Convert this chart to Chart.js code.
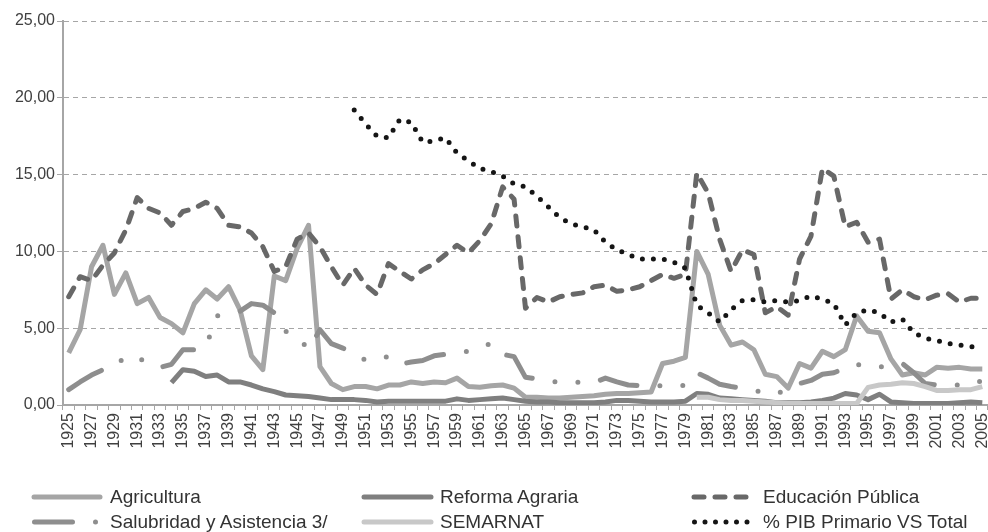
<!DOCTYPE html>
<html>
<head>
<meta charset="utf-8">
<script src="https://cdn.jsdelivr.net/npm/chart.js@4.4.0/dist/chart.umd.min.js"></script>
<style>
  html, body { margin: 0; padding: 0; background: #fff; }
  #wrap { position: relative; width: 988px; height: 532px; }
  #legend { position: absolute; left: 0; top: 470px; width: 988px; height: 62px; }
  #legend svg { position: absolute; left: 0; top: 0; }
  #legend .txt { position: absolute; font: 19px "Liberation Sans", Arial, sans-serif; color: #333; line-height: 22px; white-space: nowrap; }
</style>
</head>
<body>
<div id="wrap">
  <canvas id="chart"></canvas>
  <div id="legend"></div>
</div>
<script>
// years 1925 - 2005
const years = Array.from({ length: 81 }, (_, i) => String(1925 + i));

const agricultura = [
  3.4, 4.9, 9.0, 10.4, 7.2, 8.6, 6.6, 7.0, 5.7, 5.3,          // 1925-34
  4.7, 6.6, 7.5, 6.9, 7.7, 6.2, 3.2, 2.3, 8.4, 8.1,           // 1935-44
  10.2, 11.7, 2.5, 1.4, 1.0, 1.2, 1.2, 1.05, 1.3, 1.3,        // 1945-54
  1.5, 1.4, 1.5, 1.45, 1.75, 1.2, 1.15, 1.25, 1.3, 1.1,       // 1955-64
  0.5, 0.5, 0.45, 0.45, 0.5, 0.55, 0.6, 0.7, 0.75, 0.75,      // 1965-74
  0.8, 0.85, 2.7, 2.85, 3.1, 10.0, 8.5, 5.2, 3.9, 4.1,        // 1975-84
  3.6, 2.0, 1.85, 1.1, 2.7, 2.4, 3.5, 3.15, 3.6, 5.8,         // 1985-94
  4.8, 4.7, 3.0, 1.95, 2.1, 1.95, 2.45, 2.4, 2.45, 2.35,      // 1995-2004
  2.35                                                        // 2005
];

const reformaAgraria = [
  null, null, null, null, null, null, null, null, null, 1.45,
  2.3, 2.2, 1.85, 1.95, 1.5, 1.5, 1.3, 1.05, 0.87, 0.65,
  0.6, 0.55, 0.45, 0.35, 0.35, 0.35, 0.3, 0.2, 0.25, 0.25,
  0.25, 0.25, 0.25, 0.25, 0.4, 0.3, 0.35, 0.4, 0.45, 0.35,
  0.25, 0.2, 0.2, 0.15, 0.15, 0.15, 0.15, 0.2, 0.3, 0.3,
  0.25, 0.2, 0.2, 0.2, 0.25, 0.75, 0.7, 0.45, 0.4, 0.35,
  0.3, 0.25, 0.15, 0.15, 0.15, 0.2, 0.3, 0.45, 0.75, 0.65,
  0.35, 0.7, 0.2, 0.15, 0.1, 0.1, 0.1, 0.1, 0.15, 0.2,
  0.15
];

const educacion = [
  7.05, 8.35, 8.1, 9.1, 9.9, 11.4, 13.5, 12.8, 12.5, 11.7,
  12.6, 12.8, 13.2, 12.8, 11.7, 11.6, 11.2, 10.3, 8.7, 9.0,
  10.8, 11.2, 10.3, 9.0, 7.8, 8.9, 7.8, 7.2, 9.2, 8.7,
  8.2, 8.8, 9.2, 9.8, 10.4, 9.9, 10.7, 11.8, 14.2, 13.4,
  6.3, 7.0, 6.7, 7.05, 7.2, 7.3, 7.7, 7.8, 7.4, 7.5,
  7.7, 8.1, 8.5, 8.25, 8.5, 15.1, 13.8, 10.8, 8.7, 10.1,
  9.8, 6.0, 6.4, 5.85, 9.5, 11.0, 15.4, 14.9, 11.6, 11.9,
  10.6, 10.8, 6.9, 7.5, 7.05, 6.85, 7.15, 7.25, 6.7, 6.95,
  6.95
];

const salubridad = [
  1.0, 1.5, 1.95, 2.3, 2.45, 3.2, 3.0, 2.85, 2.45, 2.65,
  3.6, 3.6, 3.8, 5.8, 5.9, 6.1, 6.6, 6.5, 6.0, 4.8,
  4.5, 3.6, 4.9, 4.0, 3.7, 3.4, 2.9, 3.0, 3.15, 2.65,
  2.8, 2.9, 3.2, 3.3, 3.4, 3.5, 3.8, 4.0, 3.3, 3.15,
  1.8, 1.7, 1.55, 1.5, 1.45, 1.5, 1.45, 1.75, 1.5, 1.3,
  1.25, 1.25, 1.25, 1.2, 1.3, 2.1, 1.75, 1.35, 1.2, 1.1,
  0.95, 0.8, 0.7, 1.1, 1.4, 1.6, 2.0, 2.1, 2.4, 2.65,
  2.5, 2.45, 2.7, 2.7, 2.1, 1.4, 1.3, 1.3, 1.3, 1.3,
  1.6
];

const semarnat = [
  null, null, null, null, null, null, null, null, null, null,
  null, null, null, null, null, null, null, null, null, null,
  null, null, null, null, null, null, null, null, null, null,
  null, null, null, null, null, null, null, null, null, null,
  null, null, null, null, null, null, null, null, null, null,
  null, null, null, null, null, 0.5, 0.5, 0.35, 0.3, 0.3,
  0.25, 0.2, 0.15, 0.1, 0.1, 0.1, 0.1, 0.1, 0.1, 0.1,
  1.15, 1.3, 1.35, 1.45, 1.4, 1.2, 0.95, 0.95, 1.0, 1.0,
  1.2
];

const pibPrimario = [
  null, null, null, null, null, null, null, null, null, null,
  null, null, null, null, null, null, null, null, null, null,
  null, null, null, null, null, 19.2, 18.3, 17.5, 17.4, 18.6,
  18.4, 17.1, 17.2, 17.4, 16.4, 15.9, 15.4, 15.2, 14.9, 14.4,
  14.2, 13.6, 12.9, 12.2, 11.8, 11.6, 11.4, 10.6, 10.1, 9.8,
  9.5, 9.5, 9.5, 9.3, 8.9, 6.5, 6.0, 5.4, 6.2, 6.8,
  6.85, 6.7, 6.8, 6.7, 6.8, 7.1, 6.9, 6.6, 5.2, 6.0,
  6.2, 6.0, 5.4, 5.6, 4.7, 4.35, 4.2, 4.0, 3.9, 3.8,
  3.7
];

const seriesNames = ['Agricultura', 'Reforma Agraria', 'Educación Pública',
  'Salubridad y Asistencia 3/', 'SEMARNAT', '% PIB Primario VS Total'];

const AXIS_GREY = '#a6a6a6';
const TICK_FONT = { family: '"Liberation Sans", Arial, sans-serif', size: 16 };

const ctx = document.getElementById('chart');
new Chart(ctx, {
  type: 'line',
  data: {
    labels: years,
    datasets: [
      { label: seriesNames[0], data: agricultura, borderColor: '#a5a5a5', borderWidth: 5, order: 6 },
      { label: seriesNames[1], data: reformaAgraria, borderColor: '#7f7f7f', borderWidth: 5, order: 5 },
      { label: seriesNames[2], data: educacion, borderColor: '#686868', borderWidth: 5,
        borderDash: [10, 11], borderCapStyle: 'round', order: 4 },
      { label: seriesNames[3], data: salubridad, borderColor: '#8e8e8e', borderWidth: 5,
        borderDash: [38, 23, 0, 23, 0, 23], borderCapStyle: 'round', order: 3 },
      { label: seriesNames[4], data: semarnat, borderColor: '#c8c8c8', borderWidth: 5, order: 2 },
      { label: seriesNames[5], data: pibPrimario, borderColor: '#151515', borderWidth: 5,
        borderDash: [0, 11], borderCapStyle: 'round', order: 1 }
    ]
  },
  options: {
    responsive: true,
    maintainAspectRatio: false,
    animation: false,
    layout: { padding: { top: 21, right: 0, bottom: 0, left: 0 } },
    plugins: {
      legend: { display: false },
      tooltip: { enabled: false }
    },
    elements: {
      point: { radius: 0 },
      line: { tension: 0, borderJoinStyle: 'round', fill: false }
    },
    scales: {
      x: {
        offset: true,
        afterFit: function (scale) {
          scale.height = 127;
          scale.paddingLeft = 0;
          scale.paddingRight = 0;
        },
        grid: { offset: true, drawOnChartArea: false, drawTicks: true, tickLength: 5, color: AXIS_GREY },
        border: { color: AXIS_GREY, width: 2 },
        ticks: {
          autoSkip: false,
          maxRotation: 90,
          minRotation: 90,
          padding: 3,
          color: '#404040',
          font: TICK_FONT,
          callback: function (value, index) {
            return index % 2 === 0 ? this.getLabelForValue(value) : '';
          }
        }
      },
      y: {
        min: 0,
        max: 25,
        afterFit: function (scale) { scale.width = 63; },
        grid: { color: AXIS_GREY, lineWidth: 1, tickLength: 6 },
        border: { color: AXIS_GREY, width: 2, dash: [5, 4] },
        ticks: {
          stepSize: 5,
          padding: 2,
          color: '#404040',
          font: TICK_FONT,
          callback: function (value) { return value.toFixed(2).replace('.', ','); }
        }
      }
    }
  }
});

// legend, laid out like the original two rows of three
const legendItems = [
  { name: seriesNames[0], color: '#a5a5a5', dash: '', x: 34, y: 27, len: 66, tx: 110 },
  { name: seriesNames[1], color: '#7f7f7f', dash: '', x: 364, y: 27, len: 67, tx: 440 },
  { name: seriesNames[2], color: '#686868', dash: '10 11', x: 694, y: 27, len: 57, tx: 763 },
  { name: seriesNames[3], color: '#8e8e8e', dash: '38 23 0 23 0 23', x: 34.5, y: 52, len: 65, tx: 110 },
  { name: seriesNames[4], color: '#c8c8c8', dash: '', x: 364, y: 52, len: 67, tx: 440 },
  { name: seriesNames[5], color: '#151515', dash: '0 10.5', x: 694.5, y: 52, len: 63, tx: 763 }
];

const legend = document.getElementById('legend');
let svg = '<svg width="988" height="62" xmlns="http://www.w3.org/2000/svg">';
legendItems.forEach(it => {
  svg += '<line x1="' + it.x + '" y1="' + it.y + '" x2="' + (it.x + it.len) + '" y2="' + it.y +
    '" stroke="' + it.color + '" stroke-width="5" stroke-linecap="round"' +
    (it.dash ? ' stroke-dasharray="' + it.dash + '"' : '') + '/>';
});
svg += '</svg>';
legend.innerHTML = svg;
legendItems.forEach(it => {
  const d = document.createElement('div');
  d.className = 'txt';
  d.style.left = it.tx + 'px';
  d.style.top = (it.y - 11) + 'px';
  d.textContent = it.name;
  legend.appendChild(d);
});
</script>
</body>
</html>
